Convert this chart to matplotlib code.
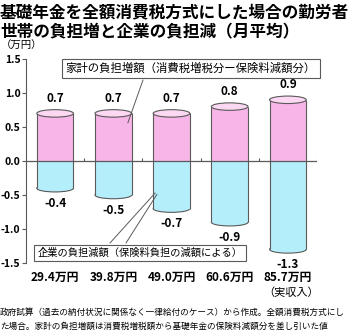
import numpy as np
import matplotlib
matplotlib.use("Agg")
import matplotlib.pyplot as plt
from matplotlib.patches import Ellipse

plt.rcParams['font.family'] = ['Noto Sans CJK JP', 'DejaVu Sans']
plt.rcParams['axes.unicode_minus'] = False

# data
incomes = ['29.4万円', '39.8万円', '49.0万円', '60.6万円', '85.7万円']
household_up = [0.7, 0.7, 0.7, 0.8, 0.9]      # 家計の負担増額
company_down = [-0.4, -0.5, -0.7, -0.9, -1.3]  # 企業の負担減額
yticks = [1.5, 1.0, 0.5, 0.0, -0.5, -1.0, -1.5]

PINK = '#f8b6e8'
PINK_TOP = '#fcd8f3'
BLUE = '#b5eefb'
EDGE = '#5a5a5a'
W = 0.63      # bar width (data units)
EH = 0.11     # ellipse height (data units)

fig = plt.figure(figsize=(3.52, 3.35), dpi=100)
ax = fig.add_axes([26 / 352, 1 - 263 / 335, 291 / 352, 204 / 335])

x = np.arange(len(incomes))

# household (pink cylinders)
ax.bar(x, household_up, width=W, color=PINK, edgecolor='none', zorder=2)
for xi, v in zip(x, household_up):
    ax.vlines([xi - W / 2, xi + W / 2], 0, v, color=EDGE, lw=0.8, zorder=3)
    ax.add_patch(Ellipse((xi, v), W, EH, facecolor=PINK_TOP, edgecolor=EDGE, lw=0.8, zorder=4))
    ax.annotate(f'{v:.1f}', (xi, v), xytext=(0, 11), textcoords='offset points',
                ha='center', va='center', fontsize=8.5, fontweight='bold')

# company (blue cylinders, rounded bottom)
ax.bar(x, company_down, width=W, color=BLUE, edgecolor='none', zorder=3)
for xi, v in zip(x, company_down):
    ax.add_patch(Ellipse((xi, v), W, EH, facecolor=BLUE, edgecolor=EDGE, lw=0.8, zorder=2))
    ax.vlines([xi - W / 2, xi + W / 2], v, 0, color=EDGE, lw=0.8, zorder=4)
    ax.annotate(f'{v:.1f}', (xi, v), xytext=(0, -11), textcoords='offset points',
                ha='center', va='center', fontsize=8.5, fontweight='bold', annotation_clip=False)

# zero line with small boundary ticks
ax.axhline(0, color=EDGE, lw=0.9, zorder=5)
ax.vlines(np.arange(len(incomes)) + 0.5, 0, 0.045, color=EDGE, lw=0.8, zorder=5)

ax.set_xlim(-0.5, len(incomes) - 0.5)
ax.set_ylim(-1.5, 1.5)
ax.set_yticks(yticks)
ax.set_yticklabels([f'{t:.1f}' for t in yticks], fontsize=7.5, fontweight='bold')
ax.tick_params(axis='y', direction='out', length=3, width=0.8, color=EDGE, pad=1)
ax.set_xticks(x)
ax.set_xticklabels(incomes, fontsize=8.5, fontweight='bold')
ax.tick_params(axis='x', length=0, pad=6)
for s in ['top', 'right', 'bottom']:
    ax.spines[s].set_visible(False)
ax.spines['left'].set_color(EDGE)
ax.spines['left'].set_linewidth(0.8)
ax.patch.set_visible(False)


def px(xp, yp):
    return xp / 352, 1 - yp / 335


# legend boxes with leader lines
ax.annotate('', xy=(1.25, 0.56), xytext=px(143, 80), textcoords='figure fraction',
            arrowprops=dict(arrowstyle='-', color=EDGE, lw=0.7, shrinkA=0, shrinkB=0), zorder=6)
ax.annotate('', xy=(1.72, -0.47), xytext=px(110, 243), textcoords='figure fraction',
            arrowprops=dict(arrowstyle='-', color=EDGE, lw=0.7, shrinkA=0, shrinkB=0), zorder=6)
ax.annotate('', xy=(1.75, -0.49), xytext=px(126, 243), textcoords='figure fraction',
            arrowprops=dict(arrowstyle='-', color=EDGE, lw=0.7, shrinkA=0, shrinkB=0), zorder=6)

box = dict(boxstyle='square,pad=0.3', fc='white', ec=EDGE, lw=0.8)
fig.text(*px(191, 68.5), '家計の負担増額（消費税増税分ー保険料減額分）', ha='center', va='center',
         fontsize=8.2, bbox=box, zorder=7)
fig.text(*px(140, 253), '企業の負担減額（保険料負担の減額による）', ha='center', va='center',
         fontsize=7.4, bbox=box, zorder=7)

# titles and notes
fig.text(*px(0, 12), '基礎年金を全額消費税方式にした場合の勤労者', ha='left', va='center',
         fontsize=12, fontweight='bold')
fig.text(*px(0, 32), '世帯の負担増と企業の負担減（月平均）', ha='left', va='center',
         fontsize=12, fontweight='bold')
fig.text(*px(1, 46), '（万円）', ha='left', va='center', fontsize=7.5)
fig.text(*px(319, 293), '（実収入）', ha='right', va='center', fontsize=8)
fig.text(*px(0, 312), '政府試算（過去の納付状況に関係なく一律給付のケース）から作成。全額消費税方式にし',
         ha='left', va='center', fontsize=6.2)
fig.text(*px(0, 326), 'た場合。家計の負担増額は消費税増税額から基礎年金の保険料減額分を差し引いた値',
         ha='left', va='center', fontsize=6.2)

fig.savefig('out.png', dpi=100)
